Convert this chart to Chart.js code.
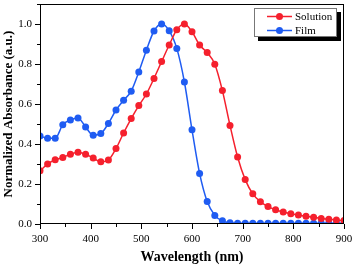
<!DOCTYPE html>
<html>
<head>
<meta charset="utf-8">
<script src="https://cdn.jsdelivr.net/npm/chart.js@4.4.1/dist/chart.umd.min.js"></script>
<style>
  body { margin: 0; background: #fff; }
</style>
</head>
<body>
<canvas id="myChart" width="354" height="266"></canvas>
<script>
const wavelength = [
  300, 315, 330, 345, 360, 375, 390, 405, 420, 435,
  450, 465, 480, 495, 510, 525, 540, 555, 570, 585,
  600, 615, 630, 645, 660, 675, 690, 705, 720, 735,
  750, 765, 780, 795, 810, 825, 840, 855, 870, 885, 900
];

const solution = [
  0.266, 0.300, 0.321, 0.333, 0.349, 0.359, 0.349, 0.330, 0.311, 0.320,
  0.377, 0.455, 0.527, 0.592, 0.650, 0.728, 0.812, 0.895, 0.971, 1.000,
  0.961, 0.895, 0.857, 0.799, 0.667, 0.493, 0.335, 0.222, 0.151, 0.111,
  0.087, 0.071, 0.060, 0.051, 0.045, 0.039, 0.034, 0.028, 0.024, 0.020, 0.017
];

const film = [
  0.440, 0.429, 0.429, 0.496, 0.520, 0.530, 0.485, 0.444, 0.452, 0.503,
  0.570, 0.619, 0.664, 0.760, 0.869, 0.965, 1.000, 0.966, 0.878, 0.710,
  0.471, 0.253, 0.112, 0.043, 0.016, 0.006, 0.004, 0.004, 0.004, 0.004,
  0.004, 0.004, 0.004, 0.004, 0.004, 0.004, 0.004, 0.004, 0.004, 0.004, 0.004
];

const seriesNames = ['Solution', 'Film'];
const red = '#f5202d';
const blue = '#1f5cf2';
const serif = 'Liberation Serif, Times New Roman, serif';

function points(values) {
  return wavelength.map((w, i) => ({x: w, y: values[i]}));
}

// frame + major/minor tick marks, drawn outward
const frameTicks = {
  id: 'frameTicks',
  afterDraw(chart) {
    const ctx = chart.ctx;
    const a = chart.chartArea;
    const xs = chart.scales.x;
    const ys = chart.scales.y;
    ctx.save();
    ctx.strokeStyle = '#000';
    ctx.lineWidth = 1;
    ctx.strokeRect(a.left + 0.5, a.top + 0.5, a.right - a.left - 1, a.bottom - a.top - 1);
    ctx.beginPath();
    for (let v = 300; v <= 900; v += 50) {
      const px = Math.round(xs.getPixelForValue(v)) + 0.5;
      const len = v % 100 === 0 ? 5 : 3;
      ctx.moveTo(px, a.bottom);
      ctx.lineTo(px, a.bottom + len);
    }
    for (let i = 0; i <= 11; i++) {
      const py = Math.round(ys.getPixelForValue(i / 10)) + 0.5;
      const len = i % 2 === 0 ? 5 : 3;
      ctx.moveTo(a.left, py);
      ctx.lineTo(a.left - len, py);
    }
    ctx.stroke();
    ctx.restore();
  }
};

// boxed legend with drop shadow, inside the plot
const boxLegend = {
  id: 'boxLegend',
  afterDraw(chart) {
    const ctx = chart.ctx;
    const bx = 254, by = 8, bw = 83, bh = 29;
    ctx.save();
    ctx.fillStyle = '#000';
    ctx.fillRect(bx + 4, by + 4, bw, bh);
    ctx.fillStyle = '#fff';
    ctx.fillRect(bx, by, bw, bh);
    ctx.strokeStyle = '#777';
    ctx.lineWidth = 1;
    ctx.strokeRect(bx + 0.5, by + 0.5, bw - 1, bh - 1);
    const cols = [red, blue];
    const rows = [16.5, 30.5];
    ctx.font = '11px ' + serif;
    ctx.textBaseline = 'middle';
    seriesNames.forEach((name, i) => {
      ctx.strokeStyle = cols[i];
      ctx.fillStyle = cols[i];
      ctx.lineWidth = 1.5;
      ctx.beginPath();
      ctx.moveTo(267, rows[i]);
      ctx.lineTo(292, rows[i]);
      ctx.stroke();
      ctx.beginPath();
      ctx.arc(279.5, rows[i], 3.5, 0, Math.PI * 2);
      ctx.fill();
      ctx.fillStyle = '#000';
      ctx.fillText(name, 295, rows[i] + 0.5);
    });
    ctx.restore();
  }
};

const data = {
  datasets: [{
    label: seriesNames[0],
    data: points(solution),
    borderColor: red,
    backgroundColor: red,
    borderWidth: 1.5,
    pointRadius: 3.5,
    pointBorderWidth: 0,
    cubicInterpolationMode: 'monotone'
  }, {
    label: seriesNames[1],
    data: points(film),
    borderColor: blue,
    backgroundColor: blue,
    borderWidth: 1.5,
    pointRadius: 3.5,
    pointBorderWidth: 0,
    cubicInterpolationMode: 'monotone'
  }]
};

const config = {
  type: 'line',
  data: data,
  options: {
    responsive: false,
    animation: false,
    layout: {
      padding: {left: 0, right: 10, top: 2, bottom: 0}
    },
    scales: {
      x: {
        type: 'linear',
        min: 300,
        max: 900,
        afterFit: (s) => {
          s.height = 42;
          s.paddingLeft = 0;
          s.paddingRight = 0;
        },
        ticks: {
          stepSize: 100,
          color: '#000',
          padding: 9,
          maxRotation: 0,
          font: {family: serif, size: 11}
        },
        grid: {display: false, drawTicks: false},
        border: {display: false},
        title: {
          display: true,
          text: 'Wavelength (nm)',
          color: '#000',
          padding: {top: 0, bottom: 0},
          font: {family: serif, size: 14, weight: 'bold'}
        }
      },
      y: {
        type: 'linear',
        min: 0,
        max: 1.1,
        afterFit: (s) => {
          s.width = 40;
          s.paddingTop = 0;
          s.paddingBottom = 0;
        },
        ticks: {
          stepSize: 0.2,
          color: '#000',
          padding: 8,
          font: {family: serif, size: 11},
          callback: (v) => v <= 1.0001 ? v.toFixed(1) : ''
        },
        grid: {display: false, drawTicks: false},
        border: {display: false},
        title: {
          display: true,
          text: 'Normalized Absorbance (a.u.)',
          color: '#000',
          padding: {top: 1, bottom: 0},
          font: {family: serif, size: 13, weight: 'bold'}
        }
      }
    },
    plugins: {
      legend: {display: false},
      tooltip: {enabled: false}
    }
  },
  plugins: [frameTicks, boxLegend]
};

var myChart = new Chart(
  document.getElementById('myChart'),
  config
);
</script>
</body>
</html>
